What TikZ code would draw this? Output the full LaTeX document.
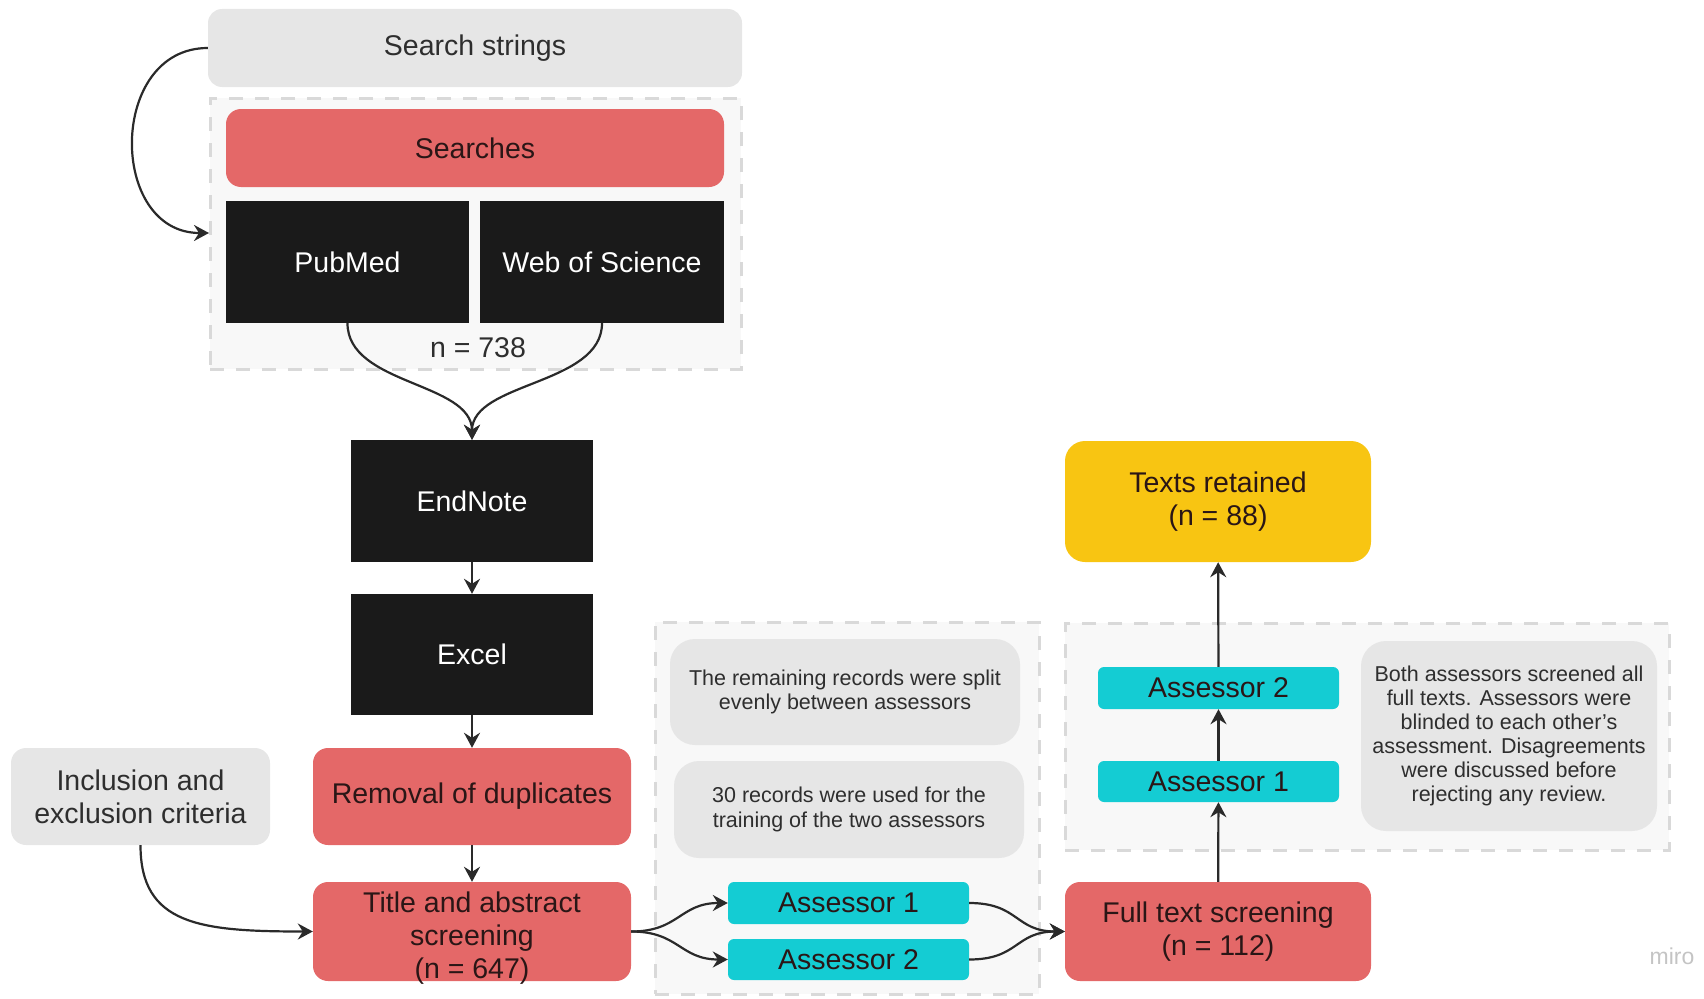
\documentclass[tikz,border=0pt]{standalone}
\usepackage{fontspec}
\setmainfont{Liberation Sans}
\usetikzlibrary{arrows.meta}
\definecolor{boxgray}{HTML}{E6E6E6}
\definecolor{boxred}{HTML}{E46868}
\definecolor{boxblack}{HTML}{1A1A1A}
\definecolor{boxcyan}{HTML}{14CCD3}
\definecolor{boxyellow}{HTML}{F8C512}
\definecolor{cfill}{HTML}{F8F8F8}
\definecolor{cline}{HTML}{D9D9D9}
\definecolor{txt}{HTML}{2E2E2E}
\definecolor{redtxt}{HTML}{2A1616}
\definecolor{linec}{HTML}{2A2A2A}
\definecolor{mirogray}{HTML}{C4C4C4}
\tikzset{
 sz/.style 2 args={minimum width=#1pt, minimum height=#2pt},
 base/.style={inner sep=0pt, align=center, font=\fontsize{28.5}{33}\selectfont, text=txt},
 graybox/.style={base, fill=boxgray, rounded corners=14pt},
 redbox/.style={base, fill=boxred, rounded corners=15pt, text=redtxt},
 blackbox/.style={base, fill=boxblack, text=white},
 cyanbox/.style={base, fill=boxcyan, rounded corners=6pt, text=redtxt},
 yellowbox/.style={base, fill=boxyellow, rounded corners=20pt, text=redtxt},
 notebox/.style={base, fill=boxgray, rounded corners=25pt, font=\fontsize{21.5}{24.5}\selectfont},
 container/.style={draw=cline, fill=cfill, line width=3pt, dash pattern=on 14pt off 12pt, inner sep=0pt},
 conn/.style={draw=linec, line width=2.2pt, -{Stealth[length=15pt,width=16pt,inset=5pt]}},
}
\begin{document}
\begin{tikzpicture}[x=1pt,y=-1pt]
\useasboundingbox (0,0) rectangle (1704,998);
% containers
\node[container, sz={531}{271}] (box1) at (475.5,233.5) {};
\node[container, sz={384}{372}] (box2) at (847,808) {};
\node[container, sz={604}{227}] (box3) at (1367,736.5) {};
% top part
\node[graybox, sz={534}{78}] (ss) at (475,48) {Search strings};
\node[redbox, sz={498}{78}] (searches) at (475,148) {Searches};
\node[blackbox, sz={243}{122}] (pubmed) at (347.5,262) {PubMed};
\node[blackbox, sz={244}{122}] (wos) at (602,262) {Web of Science};
\node[base] (n738) at (478,348) {n = 738};
\node[blackbox, sz={242}{122}] (endnote) at (472,501) {EndNote};
\node[blackbox, sz={242}{121}] (excel) at (472,654.5) {Excel};
\node[redbox, sz={318}{97}] (removal) at (472,796.5) {Removal of duplicates};
\node[redbox, sz={318}{99}] (title) at (472,931.5) {};
\node[base, text=redtxt] (titletext) at (472,938) {Title and abstract\\screening\\(n = 647)};
\node[graybox, sz={259}{97}, rounded corners=15pt] (incl) at (140.5,796.5) {Inclusion and\\exclusion criteria};
% middle notes and assessors
\node[notebox, sz={350}{106}] (note1) at (845,692) {The remaining records were split\\evenly between assessors};
\node[notebox, sz={350}{97}] (note2) at (849,809.5) {30 records were used for the\\training of the two assessors};
\node[cyanbox, sz={241}{42}] (a1L) at (848.5,903) {Assessor 1};
\node[cyanbox, sz={241}{41}] (a2L) at (848.5,959.5) {Assessor 2};
% right part
\node[redbox, sz={306}{99}] (fts) at (1218,931.5) {Full text screening\\(n = 112)};
\node[yellowbox, sz={306}{121}] (tr) at (1218,501.5) {Texts retained\\(n = 88)};
\node[cyanbox, sz={241}{42}] (a2R) at (1218.5,688) {Assessor 2};
\node[cyanbox, sz={241}{41}] (a1R) at (1218.5,781.5) {Assessor 1};
\node[notebox, sz={296}{190}, font=\fontsize{21.5}{24.1}\selectfont] (note3) at (1509,736) {Both assessors screened all\\full texts. Assessors were\\blinded to each other’s\\assessment. Disagreements\\were discussed before\\rejecting any review.};
\node[inner sep=0pt, text=mirogray, font=\fontsize{23}{23}\selectfont] (miro) at (1672,956) {miro};
% connectors
\coordinate (ssend) at (209,233);
\draw[conn] (ss.west) .. controls (108,48) and (108,233) .. (ssend);
\draw[conn] (pubmed.south) .. controls +(0,62) and +(0,-58) .. (endnote.north);
\draw[conn] (wos.south) .. controls +(0,62) and +(0,-58) .. (endnote.north);
\draw[conn] (endnote) -- (excel);
\draw[conn] (excel) -- (removal);
\draw[conn] (removal) -- (title);
\draw[conn] (incl.south) .. controls (140.5,925) and (200,931.5) .. (title.west);
\draw[conn] (title.east) .. controls +(48,0) and +(-48,0) .. (a1L.west);
\draw[conn] (title.east) .. controls +(48,0) and +(-48,0) .. (a2L.west);
\draw[conn] (a1L.east) .. controls +(50,0) and +(-50,0) .. (fts.west);
\draw[conn] (a2L.east) .. controls +(50,0) and +(-50,0) .. (fts.west);
\draw[conn] (fts) -- (a1R);
\draw[conn] (a1R) -- (a2R);
\draw[conn] (a2R) -- (tr);
\end{tikzpicture}
\end{document}
